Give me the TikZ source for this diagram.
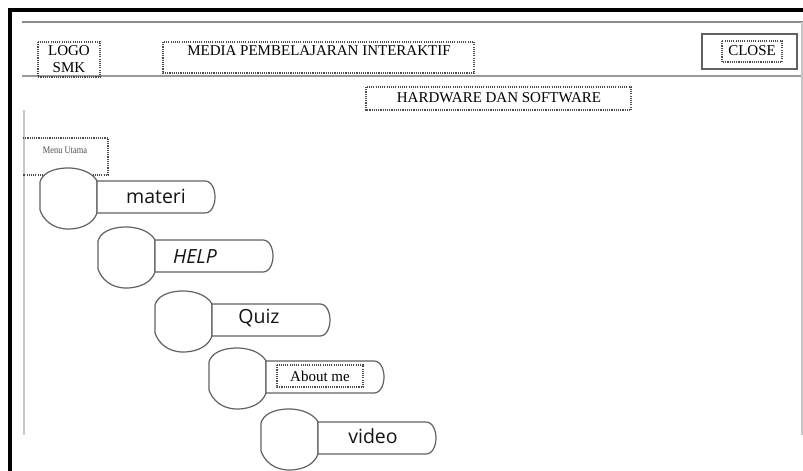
\documentclass[tikz,border=0pt]{standalone}
\usepackage{fontspec}
\setmainfont{Liberation Serif}
\newfontfamily\uisans{Open Sans}

\tikzset{
  frameline/.style={line width=4.5pt, black, line join=miter},
  ruleline/.style={line width=1.8pt, color=black!45},
  thinrule/.style={line width=1.4pt, color=black!40},
  sideline/.style={line width=2pt, color=black!22},
  dotbox/.style={draw=black!70, line width=1.1pt, dash pattern=on 1.1pt off 1.1pt},
  seriflabel/.style={font=\fontsize{15}{18}\selectfont, text=black, inner sep=0pt},
  itemtext/.style={font=\uisans\fontsize{19.5}{21}\selectfont, text=black!92, inner sep=0pt},
  shapeline/.style={draw=black!62, line width=1.2pt, fill=white},
  menuitem/.pic={
    % round knob on the left
    \draw[shapeline] (0,14) .. controls (2,6) and (12,0) .. (28,0)
      .. controls (44,0) and (54,7) .. (57,13) -- (57,45)
      .. controls (54,54) and (44,61) .. (28,61)
      .. controls (12,61) and (3,51) .. (0,42) -- cycle;
    % label tab with rounded end
    \draw[shapeline] (57,13) -- (165,13) .. controls (172,13) and (175,22) .. (175,29)
      .. controls (175,36) and (172,45) .. (165,45) -- (57,45) -- cycle;
  }
}

\begin{document}
\begin{tikzpicture}[x=1pt,y=-1pt]
\useasboundingbox (0,0) rectangle (803,471);
\fill[white] (0,0) rectangle (803,471);

% window frame
\draw[frameline] (10,471) -- (10,10) -- (803,10);
\draw[ruleline] (22,22) -- (803,22);
\draw[thinrule] (22,76) -- (803,76);
\draw[sideline] (24,110) -- (24,435);
\draw[sideline] (801.5,22) -- (801.5,435);

% header
\node[seriflabel, align=center] (logo) at (69,59) {LOGO\\[-1.5pt]SMK};
\draw[dotbox] (38,42) rectangle (100,77);

\node[seriflabel] (title) at (319,51) {MEDIA PEMBELAJARAN INTERAKTIF};
\draw[dotbox] (163,42) rectangle (474,73);

\draw[line width=1.4pt, black!62] (702,34) rectangle (797,69);
\node[seriflabel] (close) at (752,51) {CLOSE};
\draw[dotbox] (722,41) rectangle (782,62);

\node[seriflabel] (topic) at (499,98) {HARDWARE DAN SOFTWARE};
\draw[dotbox] (366,87) rectangle (631,110);

% main menu label
\node[font=\fontsize{10}{11}\selectfont, text=black!70, xscale=0.84, inner sep=0pt] (menu) at (65,150) {Menu Utama};
\draw[dotbox] (23,138) -- (108,138) -- (108,175) -- (23,175);

% menu entries
\pic (item1) at (40,168) {menuitem};
\pic (item2) at (98,227) {menuitem};
\pic (item3) at (155,291) {menuitem};
\pic (item4) at (209,348) {menuitem};
\pic (item5) at (261,409) {menuitem};

\node[itemtext] (materi) at (156,196) {materi};
\node[itemtext, font=\uisans\itshape\fontsize{19.5}{21}\selectfont] (help) at (195,257) {HELP};
\node[itemtext] (quiz) at (259,318) {Quiz};
\node[seriflabel] (about) at (320,376) {About me};
\draw[dotbox] (277,365) rectangle (363,387);
\node[itemtext] (video) at (373,436) {video};
\end{tikzpicture}
\end{document}
